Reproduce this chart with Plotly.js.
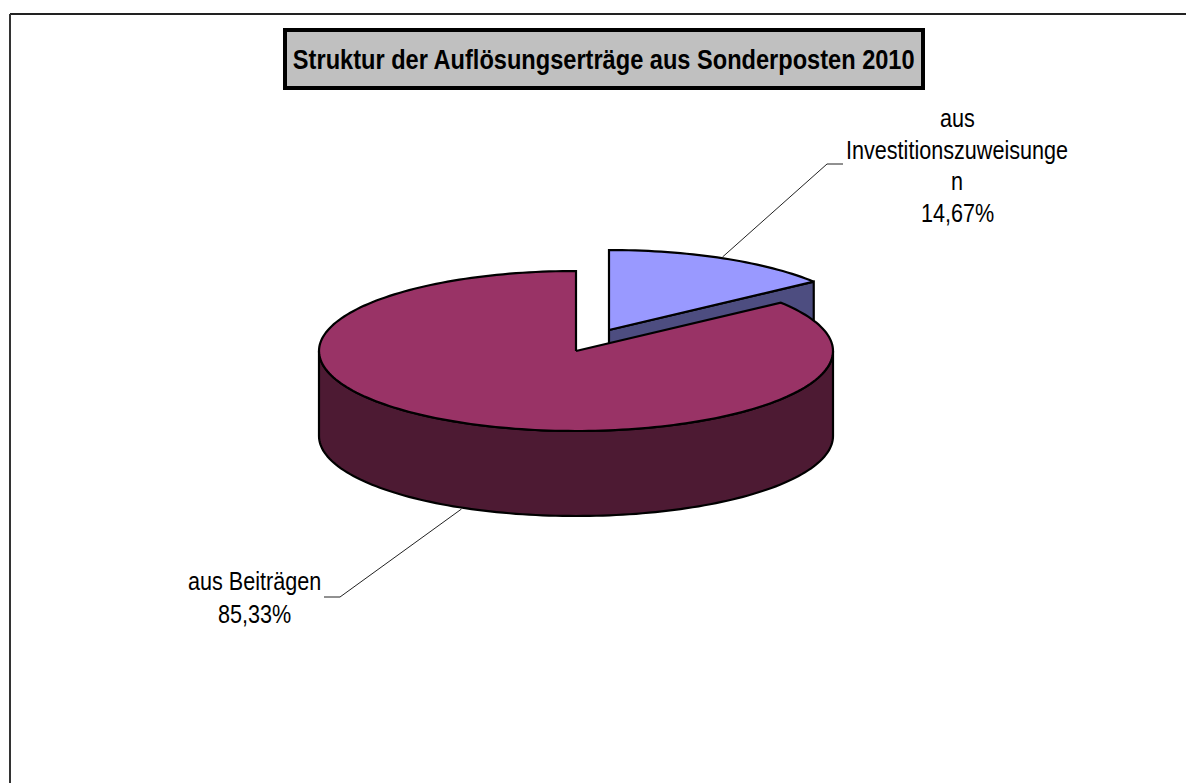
<!DOCTYPE html>
<html>
<head>
<meta charset="utf-8">
<script src="https://cdn.plot.ly/plotly-3.0.1.min.js"></script>
<style>
html,body{margin:0;padding:0;background:#fff}#chart{width:1186px;height:783px}
text.annotation-text{transform-box:fill-box;transform-origin:center;transform:scaleY(1.17)}
</style>
</head>
<body>
<div id="chart"></div>
<script>
// Data
var titleText = "Struktur der Auflösungserträge aus Sonderposten 2010";
var sliceShares = [14.67, 85.33];
var labelLinesInvest = ["aus", "Investitionszuweisunge", "n", "14,67%"];
var labelLinesBeitraege = ["aus Beiträgen", "85,33%"];
var leaderInvestX = [722.5, 827, 843];
var leaderInvestY = [257, 164, 164];
var leaderBeitraegeX = [461.5, 340, 324];
var leaderBeitraegeY = [509, 597, 597];

// Pie projection (pixel-like axes)
var cx = 576, cy = 351, rx = 257, ry = 80, depth = 85;
var explodeX = 33, explodeY = -21;
var font = "Liberation Sans, Arial, sans-serif";

function pt(deg, ox, oy, dz) {
  var a = deg * Math.PI / 180;
  return [ox + rx * Math.sin(a), oy - ry * Math.cos(a) + (dz || 0)];
}
function arc(from, to, ox, oy, dz) {
  var out = [], n = Math.max(2, Math.ceil(Math.abs(to - from) / 1.5));
  for (var i = 0; i <= n; i++) out.push(pt(from + (to - from) * i / n, ox, oy, dz));
  return out;
}
function poly(points, fill, name) {
  return {
    type: "scatter", mode: "lines", name: name,
    x: points.map(function (p) { return p[0]; }),
    y: points.map(function (p) { return p[1]; }),
    fill: "toself", fillcolor: fill,
    line: { color: "#000000", width: 2.2, simplify: false },
    hoverinfo: "skip", showlegend: false
  };
}
function leader(xs, ys) {
  return { type: "scatter", mode: "lines", x: xs, y: ys,
    line: { color: "#222222", width: 1 }, hoverinfo: "skip", showlegend: false };
}

var splitDeg = 360 * sliceShares[0] / (sliceShares[0] + sliceShares[1]);
var ex = cx + explodeX, ey = cy + explodeY;

// exploded slice: cut wall, then top
var cutWall = [[ex, ey], pt(splitDeg, ex, ey), pt(splitDeg, ex, ey, depth), [ex, ey + depth], [ex, ey]];
var investTop = [[ex, ey]].concat(arc(0, splitDeg, ex, ey)).concat([[ex, ey]]);
// main slice: outer wall, then top
var mainWall = arc(90, 270, cx, cy).concat(arc(270, 90, cx, cy, depth));
mainWall.push(mainWall[0]);
var mainTop = [[cx, cy]].concat(arc(splitDeg, 360, cx, cy)).concat([[cx, cy]]);

var traces = [
  poly(cutWall, "#4D4D80", "wall invest"),
  poly(investTop, "#9999FF", "aus Investitionszuweisungen"),
  poly(mainWall, "#4D1A33", "wall main"),
  poly(mainTop, "#993366", "aus Beiträgen"),
  leader(leaderInvestX, leaderInvestY),
  leader(leaderBeitraegeX, leaderBeitraegeY)
];

function textLines(lines, x, y0, step) {
  return lines.map(function (t, i) {
    return { text: t, x: x, y: y0 + i * step, xref: "x", yref: "y", showarrow: false,
      xanchor: "center", yanchor: "middle",
      font: { family: font, size: 21.6, color: "#000000" } };
  });
}

var annotations = [{
  text: "<b>" + titleText + "</b>", x: 604.2, y: 58.5, xref: "x", yref: "y", showarrow: false,
  xanchor: "center", yanchor: "middle", width: 633.5, height: 54,
  bgcolor: "#C0C0C0", bordercolor: "#000000", borderwidth: 4, borderpad: 0,
  font: { family: font, size: 23.6, color: "#000000" }
}].concat(textLines(labelLinesInvest, 957, 118, 31.5))
  .concat(textLines(labelLinesBeitraege, 254, 581, 33));

var layout = {
  width: 1186, height: 783,
  margin: { l: 0, r: 0, t: 0, b: 0 },
  paper_bgcolor: "#FFFFFF", plot_bgcolor: "#FFFFFF",
  showlegend: false,
  xaxis: { range: [0, 1186], visible: false, fixedrange: true },
  yaxis: { range: [783, 0], visible: false, fixedrange: true },
  annotations: annotations,
  shapes: [
    { type: "line", xref: "x", yref: "y", x0: 10, y0: 14, x1: 1186, y1: 14, line: { color: "#222222", width: 2 } },
    { type: "line", xref: "x", yref: "y", x0: 10, y0: 14, x1: 10, y1: 783, line: { color: "#333333", width: 2 } }
  ]
};
Plotly.newPlot("chart", traces, layout, { displayModeBar: false, staticPlot: true });
</script>
</body>
</html>
